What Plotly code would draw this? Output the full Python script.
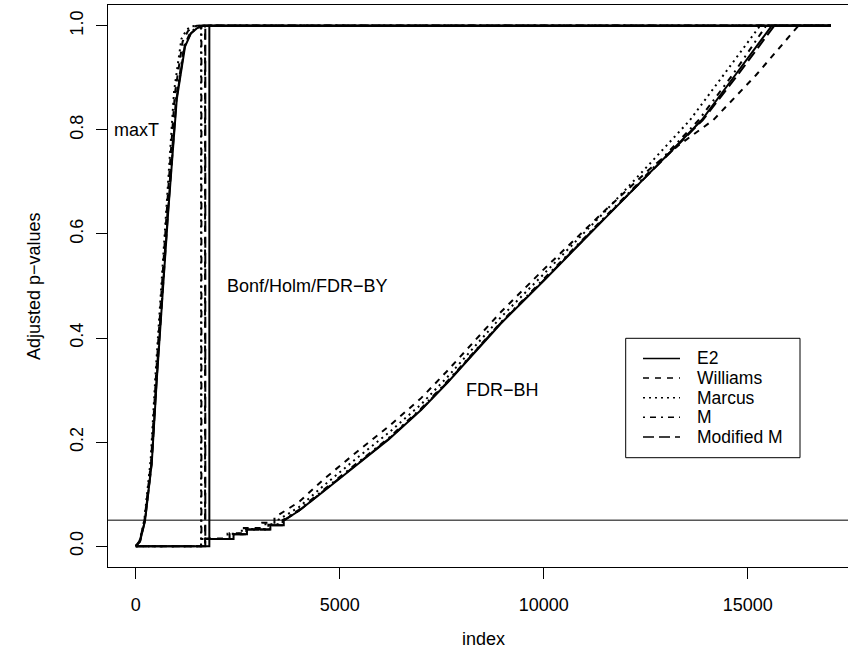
import plotly.graph_objects as go

N_GENES = 17040

STAT_NAMES = ["E2", "Williams", "Marcus", "M", "Modified M"]

# ---- maxT adjusted p-values (index, value) ----
e2_maxt_x = [1, 50, 105, 228, 392, 515, 650, 799, 1005, 1208, 1350, 1495, 1650, 17040]
e2_maxt_y = [0.0, 0.004, 0.009, 0.049, 0.159, 0.319, 0.48, 0.646, 0.858, 0.96, 0.985, 0.995, 1.0, 1.0]
wil_maxt_x = [1, 50, 100, 215, 375, 495, 630, 770, 960, 1150, 1280, 1400, 1500, 17040]
wil_maxt_y = [0.0, 0.005, 0.011, 0.05, 0.162, 0.325, 0.49, 0.655, 0.87, 0.97, 0.99, 0.998, 1.0, 1.0]
mar_maxt_x = [1, 50, 100, 210, 365, 485, 620, 755, 940, 1120, 1250, 1380, 1480, 17040]
mar_maxt_y = [0.0, 0.005, 0.012, 0.05, 0.165, 0.33, 0.495, 0.66, 0.875, 0.975, 0.993, 0.999, 1.0, 1.0]
m_maxt_x = [1, 50, 100, 220, 385, 505, 640, 785, 990, 1190, 1330, 1470, 1600, 17040]
m_maxt_y = [0.0, 0.004, 0.01, 0.049, 0.16, 0.322, 0.485, 0.65, 0.862, 0.962, 0.986, 0.996, 1.0, 1.0]
mm_maxt_x = [1, 50, 105, 226, 390, 512, 648, 795, 1000, 1200, 1345, 1490, 1640, 17040]
mm_maxt_y = [0.0, 0.004, 0.009, 0.049, 0.159, 0.32, 0.482, 0.647, 0.86, 0.961, 0.985, 0.995, 1.0, 1.0]

# ---- Bonferroni / Holm / FDR-BY: index where adjusted p jumps from 0 to 1 ----
bonf_jump = [1804, 1699, 1600, 1610, 1705]

# ---- FDR-BH adjusted p-values (index, value) ----
e2_bh_x = [1804, 2397, 2397, 2726, 2726, 3300, 3300, 3628, 3628, 4000, 4600, 5400, 6200, 7000,
           7650, 8950, 10000, 11500, 12600, 13873, 14700, 15588, 17040]
e2_bh_y = [0.014, 0.014, 0.023, 0.023, 0.032, 0.032, 0.040, 0.040, 0.049, 0.068, 0.105, 0.155,
           0.205, 0.262, 0.315, 0.428, 0.51, 0.63, 0.717, 0.819, 0.906, 1.0, 1.0]
wil_bh_x = [1699, 2300, 2300, 2650, 2650, 3100, 3100, 3400, 3400, 4000, 4600, 5400, 6200, 7000,
            7650, 8950, 10000, 11500, 12600, 13300, 14157, 15200, 16240, 17040]
wil_bh_y = [0.015, 0.015, 0.025, 0.025, 0.035, 0.035, 0.045, 0.045, 0.055, 0.085, 0.128, 0.18,
            0.23, 0.285, 0.338, 0.45, 0.532, 0.645, 0.725, 0.77, 0.819, 0.905, 1.0, 1.0]
mar_bh_x = [1600, 2250, 2250, 2600, 2600, 3150, 3150, 3500, 3500, 4000, 4600, 5400, 6200, 7000,
            7650, 8950, 10000, 11500, 12600, 13586, 14450, 15301, 17040]
mar_bh_y = [0.014, 0.014, 0.024, 0.024, 0.033, 0.033, 0.042, 0.042, 0.051, 0.075, 0.116, 0.168,
            0.218, 0.273, 0.326, 0.44, 0.523, 0.643, 0.735, 0.819, 0.91, 1.0, 1.0]
m_bh_x = [1610, 2350, 2350, 2700, 2700, 3250, 3250, 3600, 3600, 4000, 4600, 5400, 6200, 7000,
          7650, 8950, 10000, 11500, 12600, 13800, 14650, 15450, 17040]
m_bh_y = [0.014, 0.014, 0.023, 0.023, 0.032, 0.032, 0.041, 0.041, 0.05, 0.07, 0.108, 0.158,
          0.208, 0.265, 0.318, 0.43, 0.513, 0.633, 0.72, 0.819, 0.908, 1.0, 1.0]
mm_bh_x = [1705, 2380, 2380, 2710, 2710, 3280, 3280, 3610, 3610, 4000, 4600, 5400, 6200, 7000,
           7650, 8950, 10000, 11500, 12600, 13900, 14750, 15650, 17040]
mm_bh_y = [0.014, 0.014, 0.023, 0.023, 0.032, 0.032, 0.040, 0.040, 0.049, 0.068, 0.106, 0.156,
           0.206, 0.263, 0.316, 0.429, 0.511, 0.631, 0.718, 0.819, 0.905, 1.0, 1.0]

CUTOFF = 0.05
X_TICKS = [0, 5000, 10000, 15000]
Y_TICKS = [0.0, 0.2, 0.4, 0.6, 0.8, 1.0]
Y_TICK_TEXT = ["0.0", "0.2", "0.4", "0.6", "0.8", "1.0"]

# text label anchor points (data coordinates)
LABEL_TEXT = ["maxT", "Bonf/Holm/FDR\u2212BY", "FDR\u2212BH"]
LABEL_X = [20, 4200, 9000]
LABEL_Y = [0.8, 0.5, 0.3]

# ---- styling ----
DASHES = ["solid", "6px,6px", "2px,4px", "2px,5px,6px,5px", "11px,5px"]
FONT = "Liberation Sans, Arial, Helvetica, sans-serif"
FS = 18
FS_LEG = 17.5

W, H = 848, 651
ML, MR, MT, MB = 108, 0, 5, 84
PW, PH = W - ML - MR, H - MT - MB


def px_x(p):
    return (p - ML) / PW


def px_y(p):
    return (H - MB - p) / PH


maxt_x = [e2_maxt_x, wil_maxt_x, mar_maxt_x, m_maxt_x, mm_maxt_x]
maxt_y = [e2_maxt_y, wil_maxt_y, mar_maxt_y, m_maxt_y, mm_maxt_y]
bh_x = [e2_bh_x, wil_bh_x, mar_bh_x, m_bh_x, mm_bh_x]
bh_y = [e2_bh_y, wil_bh_y, mar_bh_y, m_bh_y, mm_bh_y]

fig = go.Figure()
for i, name in enumerate(STAT_NAMES):
    line = dict(color="black", width=2, dash=DASHES[i])
    fig.add_trace(go.Scatter(x=maxt_x[i], y=maxt_y[i], mode="lines", line=line,
                             name=name + " maxT", showlegend=False))
    j = bonf_jump[i]
    fig.add_trace(go.Scatter(x=[1, j, j, N_GENES], y=[0, 0, 1, 1], mode="lines", line=line,
                             name=name + " Bonf/Holm/BY", showlegend=False))
    fig.add_trace(go.Scatter(x=bh_x[i], y=bh_y[i], mode="lines", line=line,
                             name=name + " BH", showlegend=False))

shapes = [
    dict(type="line", xref="paper", yref="y", x0=0, x1=1, y0=CUTOFF, y1=CUTOFF,
         line=dict(color="black", width=1)),
]

# manual legend (R style)
leg_l, leg_r, leg_t, leg_b = 625.7, 800, 338.3, 457.7
shapes.append(dict(type="rect", xref="paper", yref="paper",
                   x0=px_x(leg_l), x1=px_x(leg_r), y0=px_y(leg_b), y1=px_y(leg_t),
                   line=dict(color="black", width=1), fillcolor="white", layer="above"))
annotations = []
for i, name in enumerate(STAT_NAMES):
    yy = 358.5 + 19.6 * i
    shapes.append(dict(type="line", xref="paper", yref="paper",
                       x0=px_x(643), x1=px_x(680), y0=px_y(yy), y1=px_y(yy),
                       line=dict(color="black", width=1.5, dash=DASHES[i]), layer="above"))
    annotations.append(dict(text=name, xref="paper", yref="paper", x=px_x(695), y=px_y(yy),
                            xanchor="left", yanchor="middle", showarrow=False,
                            font=dict(family=FONT, size=FS_LEG, color="black")))

# text labels in plot
for t, lx, ly in zip(LABEL_TEXT, LABEL_X, LABEL_Y):
    annotations.append(dict(text=t, x=lx, y=ly, xref="x", yref="y", showarrow=False,
                            font=dict(family=FONT, size=FS, color="black")))

annotations += [
    dict(text="index", xref="paper", yref="paper", x=px_x(483.5), y=px_y(639),
         xanchor="center", yanchor="middle", showarrow=False,
         font=dict(family=FONT, size=FS, color="black")),
    dict(text="Adjusted p\u2212values", xref="paper", yref="paper", x=px_x(34), y=0.5,
         xanchor="center", yanchor="middle", textangle=-90, showarrow=False,
         font=dict(family=FONT, size=FS, color="black")),
]

fig.update_layout(
    width=W, height=H,
    margin=dict(l=ML, r=MR, t=MT, b=MB),
    paper_bgcolor="white", plot_bgcolor="white",
    font=dict(family=FONT, size=FS, color="black"),
    shapes=shapes, annotations=annotations,
    showlegend=False,
    xaxis=dict(range=[-680, 17458], tickvals=X_TICKS, ticktext=[str(v) for v in X_TICKS],
               ticks="outside", ticklen=11, tickcolor="black", tickwidth=1,
               showline=True, linecolor="black", linewidth=1, mirror=True,
               showgrid=False, zeroline=False, ticklabelstandoff=10,
               tickfont=dict(family=FONT, size=FS, color="black")),
    yaxis=dict(range=[-0.04, 1.04], tickvals=Y_TICKS, ticktext=Y_TICK_TEXT, tickangle=-90,
               ticks="outside", ticklen=11, tickcolor="black", tickwidth=1,
               showline=True, linecolor="black", linewidth=1, mirror=False,
               showgrid=False, zeroline=False, ticklabelstandoff=6,
               tickfont=dict(family=FONT, size=FS, color="black")),
)

fig.write_html("out.html")
